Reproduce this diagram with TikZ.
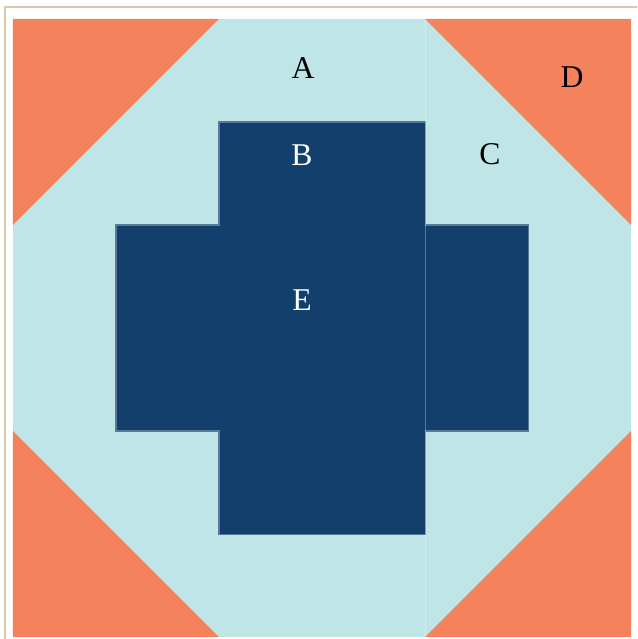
\documentclass[tikz,border=0pt]{standalone}
\usepackage{fontspec}
\setmainfont{Liberation Serif}
\definecolor{quiltorange}{HTML}{F4825C}
\definecolor{quiltlight}{HTML}{C0E5E6}
\definecolor{quiltnavy}{HTML}{123F6C}
\definecolor{framebeige}{HTML}{D9C9A6}

\begin{document}
\begin{tikzpicture}[x=1.2cm, y=-1.2cm,
    patch/.style={font=\fontsize{10.5}{12}\selectfont}]
  \useasboundingbox (-0.126,-0.184) rectangle (6.058,6.019);
  \clip (-0.126,-0.184) rectangle (6.058,6.019);
  \fill[white] (-0.126,-0.184) rectangle (6.058,6.019);
  \draw[framebeige, line width=0.7pt] (-0.078,-0.112) rectangle (6.4,6.4);
  \fill[quiltlight] (0,0) rectangle (6,6);
  \fill[quiltorange] (0,0) -- (2,0) -- (0,2) -- cycle;
  \fill[quiltorange] (4,0) -- (6,0) -- (6,2) -- cycle;
  \fill[quiltorange] (0,4) -- (0,6) -- (2,6) -- cycle;
  \fill[quiltorange] (6,4) -- (6,6) -- (4,6) -- cycle;
  \filldraw[fill=quiltnavy, draw=quiltnavy!70!white, line width=0.35pt]
    (2,1) -- (4,1) -- (4,2) -- (5,2) -- (5,4) -- (4,4) -- (4,5) -- (2,5)
    -- (2,4) -- (1,4) -- (1,2) -- (2,2) -- cycle;
  \draw[white, opacity=0.3, line width=0.35pt] (4,0) -- (4,6);
  \node[patch] (pA) at (2.816,0.476) {A};
  \node[patch, text=white] (pB) at (2.806,1.32) {B};
  \node[patch] (pC) at (4.63,1.31) {C};
  \node[patch] (pD) at (5.427,0.563) {D};
  \node[patch, text=white] (pE) at (2.806,2.728) {E};
\end{tikzpicture}
\end{document}
